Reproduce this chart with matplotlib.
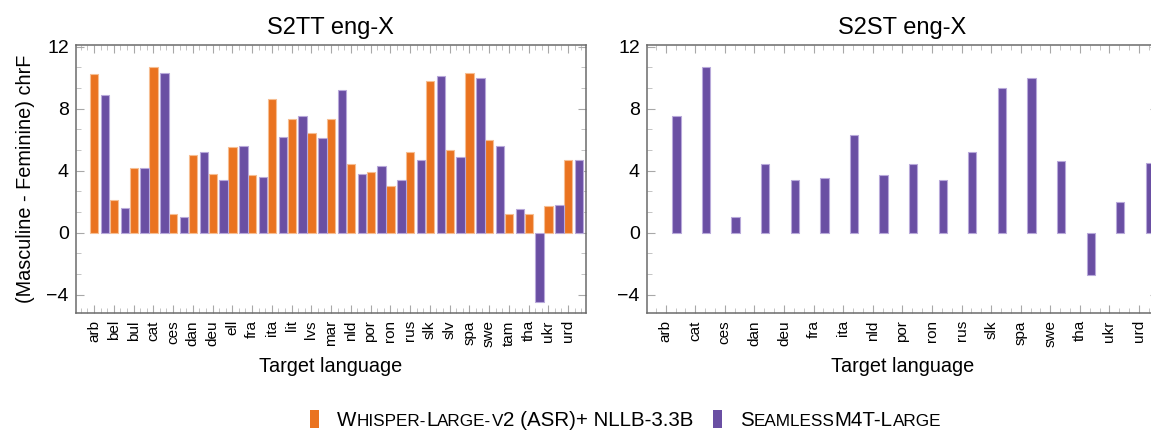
import numpy as np
import matplotlib
matplotlib.use("Agg")
import matplotlib.pyplot as plt
from matplotlib.ticker import MultipleLocator, FixedLocator
from matplotlib.offsetbox import HPacker, TextArea, DrawingArea, AnchoredOffsetbox
from matplotlib.patches import Rectangle

plt.rcParams['font.family'] = ['Liberation Sans', 'DejaVu Sans']

# ---------------- data ----------------
s2tt_langs = ["arb", "bel", "bul", "cat", "ces", "dan", "deu", "ell", "fra", "ita",
              "lit", "lvs", "mar", "nld", "por", "ron", "rus", "slk", "slv", "spa",
              "swe", "tam", "tha", "ukr", "urd"]
s2tt_whisper = [10.2, 2.1, 4.2, 10.7, 1.2, 5.0, 3.8, 5.5, 3.7, 8.6,
                7.3, 6.4, 7.3, 4.4, 3.9, 3.0, 5.2, 9.8, 5.3, 10.3,
                6.0, 1.2, 1.2, 1.7, 4.7]
s2tt_seamless = [8.9, 1.6, 4.2, 10.3, 1.0, 5.2, 3.4, 5.6, 3.6, 6.2,
                 7.5, 6.1, 9.2, 3.8, 4.3, 3.4, 4.7, 10.1, 4.9, 10.0,
                 5.6, 1.5, -4.5, 1.8, 4.7]

s2st_langs = ["arb", "cat", "ces", "dan", "deu", "fra", "ita", "nld", "por",
              "ron", "rus", "slk", "spa", "swe", "tha", "ukr", "urd"]
s2st_seamless = [7.5, 10.7, 1.0, 4.4, 3.4, 3.5, 6.3, 3.7, 4.4,
                 3.4, 5.2, 9.3, 10.0, 4.6, -2.7, 2.0, 4.5]

titles = ["S2TT eng-X", "S2ST eng-X"]
y_label = "(Masculine - Feminine) chrF"
x_label = "Target language"
y_ticks = [-4, 0, 4, 8, 12]

# legend labels in (text, is_small_cap_part) pieces
legend_whisper = [("W", False), ("HISPER-", True), ("L", False), ("ARGE-", True),
                  ("V", True), ("2 (ASR)+ NLLB-3.3B", False)]
legend_seamless = [("S", False), ("EAMLESS", True), ("M4T-L", False), ("ARGE", True)]

# ---------------- style ----------------
ORANGE = "#EA7320"
ORANGE_EDGE = "#F6BE92"
PURPLE = "#6A4FA3"
PURPLE_EDGE = "#B8A9DA"
SPINE = "#6b6b6b"
TICK = "#a8a8a8"
MINOR = "#c4c4c4"

W, H = 1151, 433
fig = plt.figure(figsize=(W / 100, H / 100), dpi=100)

bottom = (H - 313.3) / H
height = 268.3 / H
ax1 = fig.add_axes([75.7 / W, bottom, 510.3 / W, height])
ax2 = fig.add_axes([646.7 / W, bottom, 511.3 / W, height])


def style_axes(ax, n, xlim):
    ax.set_xlim(*xlim)
    ax.set_ylim(-5.2, 12.1)
    ax.yaxis.set_major_locator(FixedLocator(y_ticks))
    ax.yaxis.set_minor_locator(MultipleLocator(4 / 3))
    ax.xaxis.set_major_locator(FixedLocator(np.arange(n)))
    ax.xaxis.set_minor_locator(MultipleLocator(1 / 3))
    ax.tick_params(which="both", direction="in", top=True, right=True)
    ax.tick_params(which="major", length=6, width=0.8, color=TICK)
    ax.tick_params(which="minor", length=3.8, width=0.7, color=MINOR)
    ax.tick_params(axis="y", which="major", labelsize=14, pad=5)
    ax.tick_params(axis="x", which="major", labelsize=11, pad=5)
    for sp in ax.spines.values():
        sp.set_color(SPINE)
        sp.set_linewidth(1.1)
    ax.set_xlabel(x_label, fontsize=14.3, labelpad=7)


# left: S2TT
x1 = np.arange(len(s2tt_langs))
ax1.bar(x1 + 0.01, s2tt_whisper, width=0.425, color=ORANGE,
        edgecolor=ORANGE_EDGE, linewidth=0.8, zorder=2)
ax1.bar(x1 + 0.56, s2tt_seamless, width=0.425, color=PURPLE,
        edgecolor=PURPLE_EDGE, linewidth=0.8, zorder=2)
style_axes(ax1, len(s2tt_langs), (-0.93, len(s2tt_langs) - 1 + 0.91))
ax1.set_xticklabels(s2tt_langs, rotation=90)
ax1.set_title(titles[0], fontsize=17, pad=8)
ax1.set_ylabel(y_label, fontsize=14.3, labelpad=8)

# right: S2ST
x2 = np.arange(len(s2st_langs))
ax2.bar(x2 + 0.365, s2st_seamless, width=0.28, color=PURPLE,
        edgecolor=PURPLE_EDGE, linewidth=0.8, zorder=2)
style_axes(ax2, len(s2st_langs), (-0.64, len(s2st_langs) - 1 + 0.64))
ax2.set_xticklabels(s2st_langs, rotation=90)
ax2.set_title(titles[1], fontsize=17, pad=8)

# ---------------- legend (fake small caps) ----------------
BIG = 14.8
SMALL = 12.3


def gap(w):
    return DrawingArea(w, 1, 0, 0)


def swatch(color):
    da = DrawingArea(6.8, 13, 0, 1.5)
    da.add_artist(Rectangle((0, -1.5), 6.8, 13, facecolor=color, edgecolor="none"))
    return da


children = [swatch(ORANGE), gap(13)]
for txt, small in legend_whisper:
    children.append(TextArea(txt, textprops=dict(fontsize=SMALL if small else BIG,
                                                 color="black")))
children += [gap(14), swatch(PURPLE), gap(13)]
for txt, small in legend_seamless:
    children.append(TextArea(txt, textprops=dict(fontsize=SMALL if small else BIG,
                                                 color="black")))

box = HPacker(children=children, align="baseline", pad=0, sep=0)
anch = AnchoredOffsetbox(loc="center", child=box, frameon=False, pad=0, borderpad=0,
                         bbox_to_anchor=(625.5 / W, (H - 420) / H),
                         bbox_transform=fig.transFigure)
fig.add_artist(anch)

fig.savefig("out.png", dpi=100)
